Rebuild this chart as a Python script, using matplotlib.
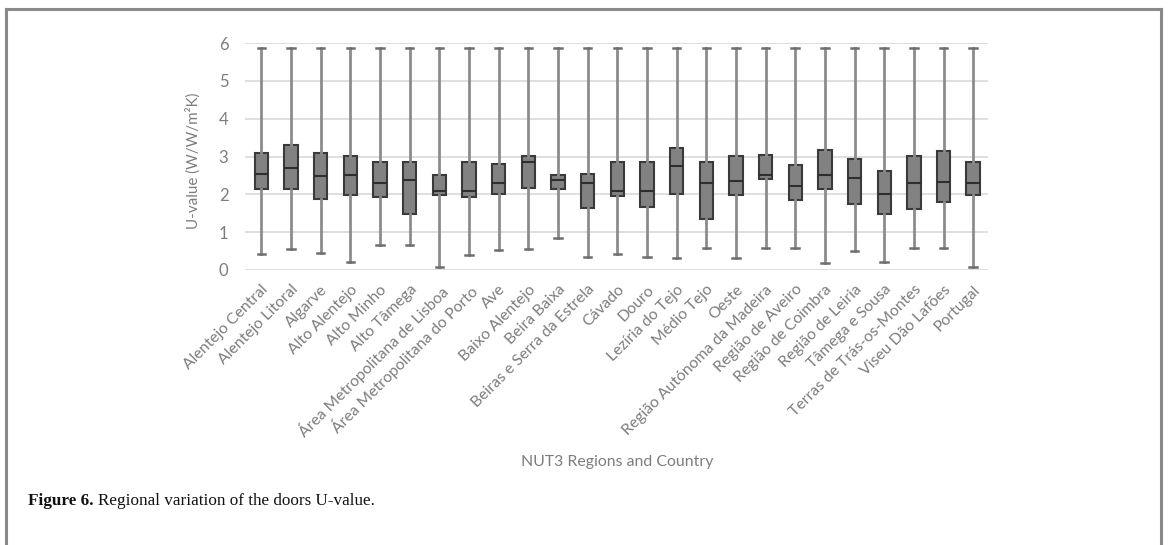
import matplotlib
matplotlib.use("Agg")
import matplotlib.pyplot as plt
from matplotlib.lines import Line2D

regions = [
    "Alentejo Central", "Alentejo Litoral", "Algarve", "Alto Alentejo",
    "Alto Minho", "Alto Tâmega", "Área Metropolitana de Lisboa",
    "Área Metropolitana do Porto", "Ave", "Baixo Alentejo", "Beira Baixa",
    "Beiras e Serra da Estrela", "Cávado", "Douro", "Lezíria do Tejo",
    "Médio Tejo", "Oeste", "Região Autónoma da Madeira", "Região de Aveiro",
    "Região de Coimbra", "Região de Leiria", "Tâmega e Sousa",
    "Terras de Trás-os-Montes", "Viseu Dão Lafões", "Portugal",
]
u_min = [0.42, 0.56, 0.45, 0.21, 0.65, 0.65, 0.07, 0.40, 0.52, 0.55, 0.85,
         0.35, 0.42, 0.34, 0.33, 0.57, 0.33, 0.57, 0.57, 0.18, 0.49, 0.21,
         0.57, 0.57, 0.07]
u_q1 = [2.14, 2.15, 1.88, 1.99, 1.94, 1.47, 1.99, 1.93, 2.01, 2.17, 2.13,
        1.64, 1.96, 1.67, 2.01, 1.35, 1.99, 2.40, 1.86, 2.15, 1.74, 1.47,
        1.61, 1.80, 1.99]
u_med = [2.54, 2.69, 2.48, 2.51, 2.30, 2.39, 2.08, 2.10, 2.30, 2.86, 2.37,
         2.30, 2.10, 2.08, 2.75, 2.30, 2.35, 2.51, 2.23, 2.51, 2.42, 2.00,
         2.30, 2.33, 2.30]
u_q3 = [3.10, 3.30, 3.09, 3.01, 2.85, 2.85, 2.51, 2.85, 2.80, 3.01, 2.51,
        2.54, 2.85, 2.85, 3.22, 2.85, 3.01, 3.03, 2.77, 3.17, 2.94, 2.62,
        3.01, 3.14, 2.85]
u_max = [5.88] * 25

y_ticks = [0, 1, 2, 3, 4, 5, 6]

W, H = 1168, 545
fig = plt.figure(figsize=(W / 100, H / 100), dpi=100)
fig.patch.set_facecolor("white")

# page frame (open at the bottom)
frame_c = "#8a8a8a"
fig.add_artist(Line2D([6 / W, 6 / W], [0, 1 - 8.5 / H], color=frame_c, lw=2.2, transform=fig.transFigure))
fig.add_artist(Line2D([6 / W, 1161 / W], [1 - 8.5 / H, 1 - 8.5 / H], color=frame_c, lw=2.2, transform=fig.transFigure))
fig.add_artist(Line2D([1161 / W, 1161 / W], [0, 1 - 8.5 / H], color=frame_c, lw=2.2, transform=fig.transFigure))

ax = fig.add_axes([245 / W, (H - 270) / H, (988 - 245) / W, (270 - 43) / H])

stats = []
for name, lo, q1, med, q3, hi in zip(regions, u_min, u_q1, u_med, u_q3, u_max):
    stats.append(dict(label=name, whislo=lo, q1=q1, med=med, q3=q3, whishi=hi, fliers=[]))

positions = list(range(len(regions)))
ax.bxp(
    stats, positions=positions, widths=0.45, patch_artist=True, showfliers=False,
    boxprops=dict(facecolor="#828282", edgecolor="#3a3a3a", linewidth=1.5),
    medianprops=dict(color="#2e2e2e", linewidth=1.5),
    whiskerprops=dict(color="#8c8c8c", linewidth=2.0),
    capprops=dict(color="#6e6e6e", linewidth=1.8),
    capwidths=0.25, zorder=3,
)

ax.set_xlim(-0.55, len(regions) - 0.5)
ax.set_ylim(0, 6)
ax.set_yticks(y_ticks)
ax.yaxis.grid(True, color="#d9d9d9", linewidth=1.2, zorder=0)
ax.set_axisbelow(True)
for s in ax.spines.values():
    s.set_visible(False)

label_c = "#7d7d7d"
font = "Lato"
ax.tick_params(axis="both", length=0, colors=label_c)
ax.tick_params(axis="y", labelsize=12, pad=12)
ax.tick_params(axis="x", pad=9)
ax.set_xticks(positions)
ax.set_xticklabels(regions, rotation=45, ha="right", rotation_mode="anchor",
                   fontsize=11.3, color=label_c, family=font)
for t in ax.get_yticklabels():
    t.set_family(font)

fig.text(193 / W, 1 - 161 / H, "U-value (W/W/m²K)", rotation=90, ha="center", va="center",
         fontsize=10.9, color=label_c, family=font)
fig.text(617 / W, 1 - 462 / H, "NUT3 Regions and Country", ha="center", va="center",
         fontsize=11.4, color=label_c, family=font)

# caption
cap_y = 1 - 501 / H
cap = fig.text(28 / W, cap_y, "Figure 6.", ha="left", va="center",
               fontsize=12.3, fontweight="bold", family="Liberation Serif", color="#111111")
fig.canvas.draw()
bb = cap.get_window_extent()
fig.text((bb.x1 + 4) / W, cap_y, "Regional variation of the doors U-value.",
         ha="left", va="center", fontsize=12.3, family="Liberation Serif", color="#111111")

fig.savefig("out.png", dpi=100, facecolor="white")
